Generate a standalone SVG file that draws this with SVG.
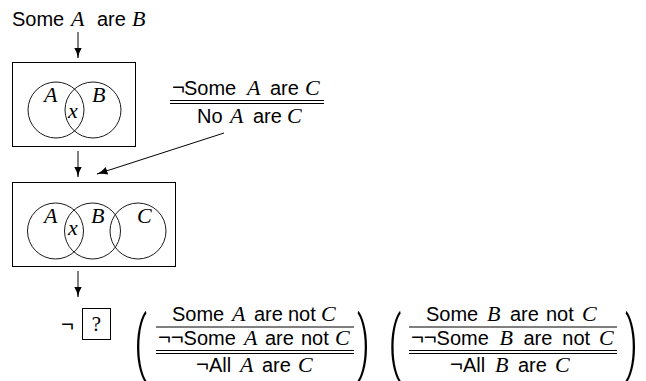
<svg xmlns="http://www.w3.org/2000/svg" width="646" height="381" viewBox="0 0 646 381">
<defs>
<style>
text{font-family:"Liberation Sans",Arial,sans-serif;font-size:20px;fill:#000}
.m{font-family:"Liberation Serif","Times New Roman",serif;font-style:italic;font-size:22px}
.n{font-size:22px}
.r{font-family:"Liberation Serif","Times New Roman",serif;font-size:21px}
.p{font-family:Roboto,"Liberation Sans",sans-serif;font-weight:300;font-size:40px}
.box{fill:none;stroke:#000;stroke-width:1}
.c{fill:none;stroke:#000;stroke-width:0.9}
.rule{stroke:#000;stroke-width:1}
.conn line{stroke:#000;stroke-width:1;marker-end:url(#ah)}
</style>
<marker id="ah" markerUnits="userSpaceOnUse" viewBox="0 0 11 8" refX="10.5" refY="4" markerWidth="11" markerHeight="8" orient="auto">
<path d="M0,0 Q5,3.3 11,4 Q5,4.7 0,8 Z" fill="#000"/>
</marker>
</defs>

<g id="title">
<text y="26"><tspan x="12">Some</tspan><tspan class="m" x="71">A</tspan><tspan x="97">are</tspan><tspan class="m" x="132">B</tspan></text>
</g>

<g id="venn1">
<rect class="box" x="12.5" y="62.5" width="123" height="84"/>
<circle class="c" cx="56" cy="110" r="28"/>
<circle class="c" cx="93" cy="110" r="28"/>
<text class="m" x="44" y="102">A</text>
<text class="m" x="92" y="102">B</text>
<text class="m" x="68" y="118">x</text>
</g>

<g id="rule1">
<text y="95"><tspan class="n" x="172">¬</tspan><tspan x="184">Some</tspan><tspan class="m" x="247">A</tspan><tspan x="270">are</tspan><tspan class="m" x="305">C</tspan></text>
<line class="rule" x1="170" y1="100.5" x2="324" y2="100.5"/>
<line class="rule" x1="170" y1="103.5" x2="324" y2="103.5"/>
<text y="123"><tspan x="197">No</tspan><tspan class="m" x="230">A</tspan><tspan x="253">are</tspan><tspan class="m" x="287">C</tspan></text>
</g>

<g id="venn2">
<rect class="box" x="12.5" y="182.5" width="163" height="84"/>
<circle class="c" cx="55.5" cy="231" r="28"/>
<circle class="c" cx="92.5" cy="231" r="28"/>
<circle class="c" cx="138" cy="231" r="28"/>
<text class="m" x="44" y="223">A</text>
<text class="m" x="91" y="223">B</text>
<text class="m" x="137" y="223">C</text>
<text class="m" x="68" y="235">x</text>
</g>

<g id="query">
<text class="n" x="61" y="332">¬</text>
<rect class="box" x="82.5" y="308.5" width="28" height="31"/>
<text class="r" x="96.5" y="331" text-anchor="middle">?</text>
</g>

<g id="proofA">
<text class="p" transform="translate(134.3,367) scale(1,1.76)">(</text>
<text y="321"><tspan x="172">Some</tspan><tspan class="m" x="232">A</tspan><tspan x="254">are</tspan><tspan x="288">not</tspan><tspan class="m" x="321">C</tspan></text>
<line class="rule" x1="156" y1="327" x2="354" y2="327"/>
<text y="345"><tspan class="n" x="158">¬</tspan><tspan class="n" x="170.8">¬</tspan><tspan x="183.6">Some</tspan><tspan class="m" x="244">A</tspan><tspan x="265">are</tspan><tspan x="301">not</tspan><tspan class="m" x="335">C</tspan></text>
<line class="rule" x1="156" y1="350.5" x2="354" y2="350.5"/>
<line class="rule" x1="156" y1="353.5" x2="354" y2="353.5"/>
<text y="372"><tspan class="n" x="196">¬</tspan><tspan x="209">All</tspan><tspan class="m" x="240">A</tspan><tspan x="262">are</tspan><tspan class="m" x="298">C</tspan></text>
<text class="p" transform="translate(357,367) scale(1,1.76)">)</text>
</g>

<g id="proofB">
<text class="p" transform="translate(388.5,367) scale(1,1.76)">(</text>
<text y="321"><tspan x="426">Some</tspan><tspan class="m" x="487">B</tspan><tspan x="510">are</tspan><tspan x="546">not</tspan><tspan class="m" x="582">C</tspan></text>
<line class="rule" x1="409" y1="327" x2="617" y2="327"/>
<text y="345"><tspan class="n" x="411">¬</tspan><tspan class="n" x="423.8">¬</tspan><tspan x="436.6">Some</tspan><tspan class="m" x="499.5">B</tspan><tspan x="523.5">are</tspan><tspan x="562.3">not</tspan><tspan class="m" x="599">C</tspan></text>
<line class="rule" x1="409" y1="350.5" x2="617" y2="350.5"/>
<line class="rule" x1="409" y1="353.5" x2="617" y2="353.5"/>
<text y="372"><tspan class="n" x="450">¬</tspan><tspan x="463">All</tspan><tspan class="m" x="495">B</tspan><tspan x="518">are</tspan><tspan class="m" x="555">C</tspan></text>
<text class="p" transform="translate(625,367) scale(1,1.76)">)</text>
</g>

<g id="connectors" class="conn">
<line x1="78" y1="32" x2="78" y2="58"/>
<line x1="78" y1="151" x2="78" y2="177"/>
<line x1="224" y1="133" x2="97" y2="174"/>
<line x1="78" y1="271" x2="78" y2="297"/>
</g>
</svg>
